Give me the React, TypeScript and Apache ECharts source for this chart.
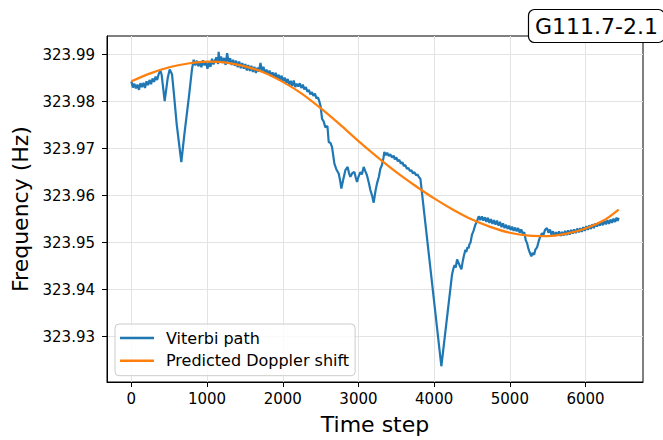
import React, { useEffect, useRef } from "react";
import * as echarts from "echarts";

const xTicks = [0, 1000, 2000, 3000, 4000, 5000, 6000];
const yTicks = [323.93, 323.94, 323.95, 323.96, 323.97, 323.98, 323.99];

// Viterbi path: [time step, frequency (Hz)]
const viterbiPath: [number, number][] = [
  [0, 323.9843], [20, 323.983], [40, 323.9838], [60, 323.9828], [80, 323.9836], [100, 323.9825],
  [120, 323.9839], [140, 323.9831], [160, 323.984], [180, 323.9829], [200, 323.9843], [220, 323.9835],
  [240, 323.9846], [260, 323.9837], [280, 323.9849], [300, 323.9842], [320, 323.9853], [340, 323.9846],
  [360, 323.9858], [383, 323.9866], [400, 323.9857], [440, 323.9801], [480, 323.985], [506, 323.9868],
  [537, 323.9858], [560, 323.982], [600, 323.975], [660, 323.9671], [700, 323.973], [760, 323.981],
  [800, 323.9868], [823, 323.9889],
  [845, 323.9877], [865, 323.9887], [885, 323.9875], [905, 323.9884], [925, 323.9873], [945, 323.9888],
  [965, 323.9877], [985, 323.9885], [1005, 323.987], [1025, 323.9883], [1045, 323.9874], [1065, 323.9891],
  [1085, 323.9879], [1105, 323.9888], [1125, 323.9894], [1145, 323.988], [1153, 323.9906], [1165, 323.9885],
  [1185, 323.9896], [1205, 323.9882], [1225, 323.9893], [1245, 323.9878], [1265, 323.9903], [1285, 323.9884],
  [1305, 323.9892], [1325, 323.9878], [1345, 323.9889], [1365, 323.9876], [1385, 323.9887], [1405, 323.9873],
  [1425, 323.9885], [1445, 323.9871], [1465, 323.9882], [1485, 323.987], [1505, 323.988], [1525, 323.9866],
  [1545, 323.9878], [1565, 323.9865], [1585, 323.9876], [1605, 323.9863], [1625, 323.9874], [1645, 323.9861],
  [1665, 323.9872], [1685, 323.9864], [1705, 323.9882], [1725, 323.9866], [1745, 323.9874], [1765, 323.986],
  [1785, 323.9868], [1805, 323.9858], [1825, 323.9866], [1845, 323.9854], [1865, 323.9862], [1885, 323.9851],
  [1905, 323.9861], [1925, 323.9849], [1945, 323.9857], [1965, 323.9846], [1985, 323.9855], [2005, 323.9843],
  [2025, 323.9851], [2045, 323.984], [2065, 323.9848], [2085, 323.9836], [2105, 323.9844], [2125, 323.9833],
  [2145, 323.9845], [2165, 323.9831], [2185, 323.9838], [2205, 323.9832], [2225, 323.9839], [2245, 323.9829],
  [2265, 323.9836], [2285, 323.9826], [2305, 323.9831], [2325, 323.9821], [2345, 323.9825], [2365, 323.9815],
  [2385, 323.982], [2405, 323.9812], [2425, 323.9817], [2445, 323.9807], [2465, 323.9809], [2480, 323.9802],
  [2500, 323.979], [2519, 323.9763], [2540, 323.9758], [2563, 323.9745], [2590, 323.9748], [2607, 323.9714],
  [2630, 323.9712], [2651, 323.9703], [2682, 323.9668], [2710, 323.9655], [2739, 323.9647], [2760, 323.963],
  [2774, 323.9615], [2800, 323.9635], [2827, 323.9654], [2857, 323.9661], [2875, 323.9648], [2893, 323.964],
  [2920, 323.9648], [2946, 323.965], [2965, 323.9638], [2981, 323.9629], [3000, 323.964], [3025, 323.965],
  [3045, 323.9645], [3069, 323.9661], [3090, 323.9652], [3113, 323.9643], [3140, 323.9625], [3157, 323.9612],
  [3180, 323.96], [3201, 323.9585], [3225, 323.961], [3245, 323.9626], [3270, 323.964], [3289, 323.9657],
  [3310, 323.9665], [3330, 323.968], [3342, 323.9693], [3360, 323.9686], [3380, 323.9691], [3400, 323.9684],
  [3420, 323.9688], [3443, 323.9681], [3465, 323.9685], [3480, 323.9677], [3500, 323.9681], [3520, 323.9673],
  [3540, 323.9676], [3560, 323.9668], [3580, 323.9671], [3600, 323.9663], [3620, 323.9665], [3640, 323.9657],
  [3660, 323.9659], [3680, 323.9652], [3700, 323.9654], [3720, 323.9647], [3740, 323.965], [3760, 323.9643],
  [3780, 323.9645], [3800, 323.9639], [3818, 323.9636],
  [4095, 323.9237], [4236, 323.9432], [4255, 323.9445], [4270, 323.9452], [4285, 323.9447], [4303, 323.9464],
  [4320, 323.9458], [4340, 323.945], [4360, 323.9443], [4375, 323.9458], [4390, 323.947], [4413, 323.9485],
  [4425, 323.948], [4440, 323.949], [4455, 323.9488], [4465, 323.9496], [4480, 323.95], [4500, 323.9517],
  [4520, 323.9525], [4544, 323.9538], [4565, 323.9545], [4589, 323.9556],
  [4610, 323.9548], [4630, 323.9556], [4650, 323.9547], [4670, 323.9554], [4690, 323.9544], [4710, 323.9553],
  [4730, 323.9542], [4750, 323.955], [4770, 323.954], [4790, 323.9548], [4810, 323.9538], [4830, 323.9547],
  [4850, 323.9536], [4870, 323.9544], [4890, 323.9533], [4910, 323.9541], [4930, 323.9531], [4950, 323.9538],
  [4970, 323.9529], [4990, 323.9536], [5010, 323.9527], [5030, 323.9534], [5050, 323.9525], [5070, 323.9532],
  [5090, 323.9524], [5110, 323.9531], [5130, 323.9521], [5150, 323.9528], [5170, 323.9519], [5190, 323.9522],
  [5210, 323.9505], [5227, 323.9499], [5245, 323.9487], [5260, 323.948], [5284, 323.9471], [5300, 323.9478],
  [5320, 323.9474], [5337, 323.9485], [5360, 323.949], [5381, 323.9503], [5400, 323.9512], [5425, 323.952],
  [5445, 323.9517], [5465, 323.9527], [5491, 323.9531], [5510, 323.9521], [5530, 323.9528], [5550, 323.9517],
  [5570, 323.9524], [5590, 323.9514], [5610, 323.9522], [5630, 323.9515], [5650, 323.9524], [5670, 323.9514],
  [5690, 323.9523], [5710, 323.9515], [5730, 323.9525], [5750, 323.9516], [5770, 323.9526], [5790, 323.9517],
  [5810, 323.9527], [5830, 323.9519], [5850, 323.9528], [5870, 323.952], [5890, 323.953], [5910, 323.9522],
  [5930, 323.9531], [5950, 323.9523], [5970, 323.9533], [5990, 323.9525], [6010, 323.9535], [6030, 323.9527],
  [6050, 323.9537], [6070, 323.9529], [6090, 323.9539], [6110, 323.9531], [6130, 323.9541], [6150, 323.9534],
  [6170, 323.9543], [6190, 323.9536], [6210, 323.9545], [6230, 323.9537], [6250, 323.9546], [6270, 323.9539],
  [6290, 323.9548], [6310, 323.954], [6330, 323.9549], [6350, 323.9542], [6370, 323.9551], [6390, 323.9544],
  [6410, 323.9553], [6425, 323.9546], [6437, 323.9553],
];

// Predicted Doppler shift: [time step, frequency (Hz)]
const predictedShift: [number, number][] = [
  [0, 323.9843], [250, 323.986], [500, 323.9873], [750, 323.9881], [1000, 323.9885], [1250, 323.9883],
  [1500, 323.9875], [1750, 323.9862], [2000, 323.9842], [2250, 323.9817], [2500, 323.9786], [2750, 323.9752],
  [3000, 323.9716], [3250, 323.9682], [3500, 323.965], [3750, 323.9621], [4000, 323.9594], [4250, 323.957],
  [4500, 323.9549], [4750, 323.9533], [5000, 323.9521], [5250, 323.9515], [5500, 323.9514], [5750, 323.9519],
  [6000, 323.953], [6250, 323.9548], [6437, 323.957],
];

const FONT = "DejaVu Sans";

export default function App() {
  const ref = useRef<HTMLDivElement>(null);
  useEffect(() => {
    document.body.style.margin = "0";
    if (!ref.current) return;
    const chart = echarts.init(ref.current, null, { renderer: "svg" });
    chart.setOption({
      animation: false,
      backgroundColor: "#ffffff",
      textStyle: { fontFamily: FONT },
      title: {
        text: "G111.7-2.1",
        left: 528,
        top: 9,
        padding: [4, 7, 4, 7],
        borderColor: "#000",
        borderWidth: 1.2,
        borderRadius: 6,
        backgroundColor: "#fff",
        textStyle: { fontFamily: FONT, fontSize: 22, fontWeight: "normal", color: "#000", lineHeight: 26 },
      },
      legend: {
        orient: "vertical",
        left: 115,
        top: 324,
        padding: [5, 6, 6, 5],
        itemGap: 4.7,
        itemWidth: 34,
        itemHeight: 2.5,
        icon: "rect",
        backgroundColor: "rgba(255,255,255,0.8)",
        borderColor: "#cccccc",
        borderWidth: 1,
        borderRadius: 4,
        textStyle: { fontFamily: FONT, fontSize: 16, color: "#000", lineHeight: 18, padding: [0, 0, 0, 7] },
        data: ["Viterbi path", "Predicted Doppler shift"],
      },
      grid: {
        left: 107,
        right: 20,
        top: 36,
        bottom: 55,
        show: true,
        borderColor: "#000",
        borderWidth: 1,
        backgroundColor: "transparent",
      },
      xAxis: {
        type: "value",
        min: -322,
        max: 6759,
        name: "Time step",
        nameLocation: "middle",
        nameGap: 31,
        nameTextStyle: { fontFamily: FONT, fontSize: 22, color: "#000" },
        axisLine: { show: true, onZero: false, lineStyle: { color: "#000", width: 1 } },
        axisTick: { show: true, length: 5, lineStyle: { color: "#000" }, customValues: xTicks },
        axisLabel: {
          fontFamily: FONT,
          fontSize: 15,
          color: "#000",
          margin: 9,
          customValues: xTicks,
          formatter: (v: number) => String(Math.round(v)),
        },
        splitLine: { show: true, lineStyle: { color: "#e3e3e3", width: 1 } },
      },
      yAxis: {
        type: "value",
        min: 323.92035,
        max: 323.99395,
        name: "Frequency (Hz)",
        nameLocation: "middle",
        nameGap: 72,
        nameTextStyle: { fontFamily: FONT, fontSize: 22, color: "#000" },
        axisLine: { show: true, onZero: false, lineStyle: { color: "#000", width: 1 } },
        axisTick: { show: true, length: 5, lineStyle: { color: "#000" }, customValues: yTicks },
        axisLabel: {
          fontFamily: FONT,
          fontSize: 15,
          color: "#000",
          margin: 12,
          customValues: yTicks,
          formatter: (v: number) => v.toFixed(2),
        },
        splitLine: { show: true, lineStyle: { color: "#e3e3e3", width: 1 } },
      },
      series: [
        {
          name: "Viterbi path",
          type: "line",
          data: viterbiPath,
          showSymbol: false,
          symbol: "none",
          color: "#1f77b4",
          lineStyle: { color: "#1f77b4", width: 2.2 },
          z: 2,
        },
        {
          name: "Predicted Doppler shift",
          type: "line",
          data: predictedShift,
          showSymbol: false,
          symbol: "none",
          smooth: 0.3,
          color: "#ff7f0e",
          lineStyle: { color: "#ff7f0e", width: 2.2 },
          z: 3,
        },
      ],
    });
    return () => chart.dispose();
  }, []);
  return <div ref={ref} style={{ width: 663, height: 440 }} />;
}
